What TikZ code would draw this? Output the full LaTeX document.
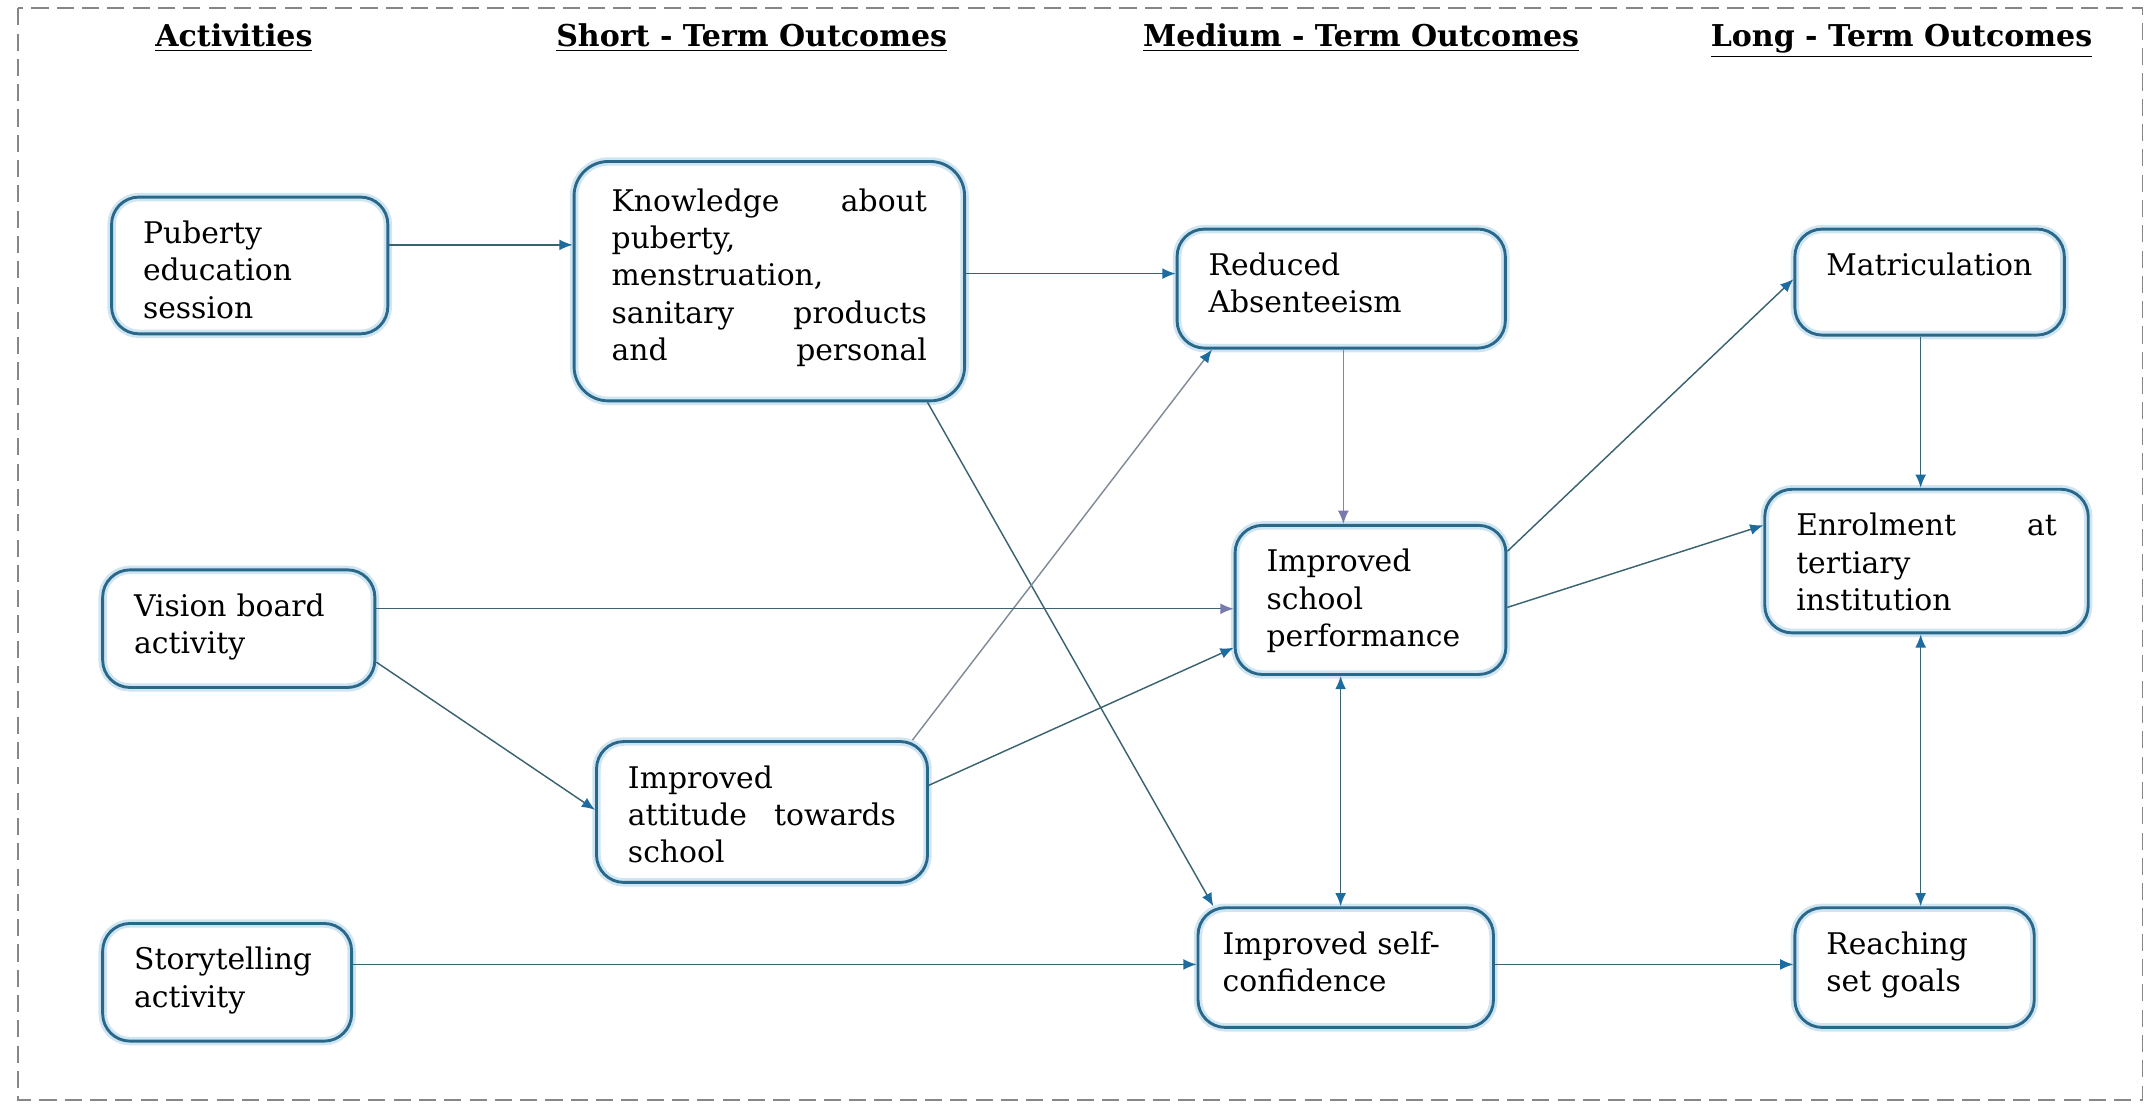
\documentclass[tikz,border=0pt]{standalone}
\usepackage{fontspec}
\setmainfont{DejaVu Serif}
\usetikzlibrary{arrows.meta}
\definecolor{boxblue}{RGB}{42,104,138}
\definecolor{glowblue}{RGB}{208,229,242}
\definecolor{lineteal}{RGB}{58,98,112}
\definecolor{linegray}{RGB}{128,138,152}
\definecolor{tipblue}{RGB}{28,108,160}
\definecolor{tippurple}{RGB}{118,122,172}
\definecolor{framegray}{RGB}{135,135,135}
\hyphenpenalty=10000

\tikzset{
	obox/.style={draw=boxblue, line width=1.2pt, rounded corners=0.4cm, preaction={draw=glowblue, line width=3.5pt}, anchor=north west, align=left, inner xsep=0.46cm, inner ysep=0cm, text height=0.68cm, font=\fontsize{12.4}{15.5}\selectfont},
	colhead/.style={anchor=base, font=\fontsize{12.5}{15}\selectfont\bfseries},
	conn/.style={draw=lineteal, line width=0.6pt, -{Latex[length=5.5pt,width=4.5pt,color=tipblue]}},
	ptip/.style={-{Latex[length=5.5pt,width=4.5pt,color=tippurple]}},
	twoway/.style={conn, {Latex[length=5.5pt,width=4.5pt,color=tipblue]}-{Latex[length=5.5pt,width=4.5pt,color=tipblue]}}
}

\begin{document}
\begin{tikzpicture}[x=0.02cm, y=-0.02cm]
	\useasboundingbox (0,0) rectangle (1568,809);
	\draw[framegray, line width=0.6pt, dash pattern=on 0.25cm off 0.12cm] (13,6) rectangle (1566,804);

	\foreach \n/\x/\t in {act/171/Activities, short/549.5/Short - Term Outcomes, medium/995/Medium - Term Outcomes, long/1390/Long - Term Outcomes}
	{
		\node[colhead] (\n) at (\x,34) {\underline{\t}};
	}

	\node[obox, text width=3.12cm, text depth=1.32cm] (puberty) at (80.5,143) {Puberty\\ education\\ session};
	\node[obox, inner xsep=0.55cm, text width=4.61cm, text height=0.73cm, text depth=2.77cm, rounded corners=0.5cm] (know) at (418.6,117) {Knowledge\hfill about\\ puberty,\\ menstruation,\\ sanitary\hfill products\\ and\hfill personal};
	\node[obox, text width=3.88cm, text depth=1.06cm] (reduced) at (859.4,166.4) {Reduced\\ Absenteeism};
	\node[obox, text width=3.02cm, text depth=0.87cm] (matric) at (1311,166.4) {Matriculation};
	\node[obox, text width=3.06cm, text depth=1.04cm] (vision) at (74,415.5) {Vision board\\ activity};
	\node[obox, text width=3.04cm, text depth=1.5cm] (isp) at (901.8,383) {Improved\\ school\\ performance};
	\node[obox, text width=3.81cm, text depth=1.42cm] (enrol) at (1289,356.6) {Enrolment\hfill at\\ tertiary\\ institution};
	\node[obox, text width=3.92cm, text depth=1.38cm] (attitude) at (435,541) {Improved\\ attitude\hfill towards\\ school};
	\node[obox, text width=2.72cm, text depth=1.04cm] (story) at (74,674) {Storytelling\\ activity};
	\node[obox, inner xsep=0.36cm, text width=3.6cm, text depth=1.07cm] (selfconf) at (874.7,662.5) {Improved self-\\ confidence};
	\node[obox, text width=2.58cm, text depth=1.07cm] (reaching) at (1311,662.5) {Reaching\\ set goals};

	\draw[conn] (puberty.east |- 0,179) -- (know.west |- 0,179);
	\draw[conn] (know.east |- 0,200) -- (reduced.west |- 0,200);
	\draw[conn] (know.south -| 678,0) -- (selfconf.north -| 887,0);
	\draw[conn, draw=linegray] (attitude.north -| 667,0) -- (reduced.south -| 886,0);
	\draw[conn, draw=linegray, ptip] (reduced.south -| 982,0) -- (isp.north -| 982,0);
	\draw[conn, ptip] (vision.east |- 0,445) -- (isp.west |- 0,445);
	\draw[conn] (vision.east |- 0,484) -- (attitude.west |- 0,592);
	\draw[conn] (attitude.east |- 0,574) -- (isp.west |- 0,473.5);
	\draw[conn] (isp.east |- 0,403) -- (matric.west |- 0,204);
	\draw[conn] (isp.east |- 0,444) -- (enrol.west |- 0,384);
	\draw[conn] (matric.south -| 1404,0) -- (enrol.north -| 1404,0);
	\draw[twoway] (isp.south -| 980,0) -- (selfconf.north -| 980,0);
	\draw[twoway] (enrol.south -| 1404,0) -- (reaching.north -| 1404,0);
	\draw[conn] (story.east |- 0,705) -- (selfconf.west |- 0,705);
	\draw[conn] (selfconf.east |- 0,705) -- (reaching.west |- 0,705);
\end{tikzpicture}
\end{document}
